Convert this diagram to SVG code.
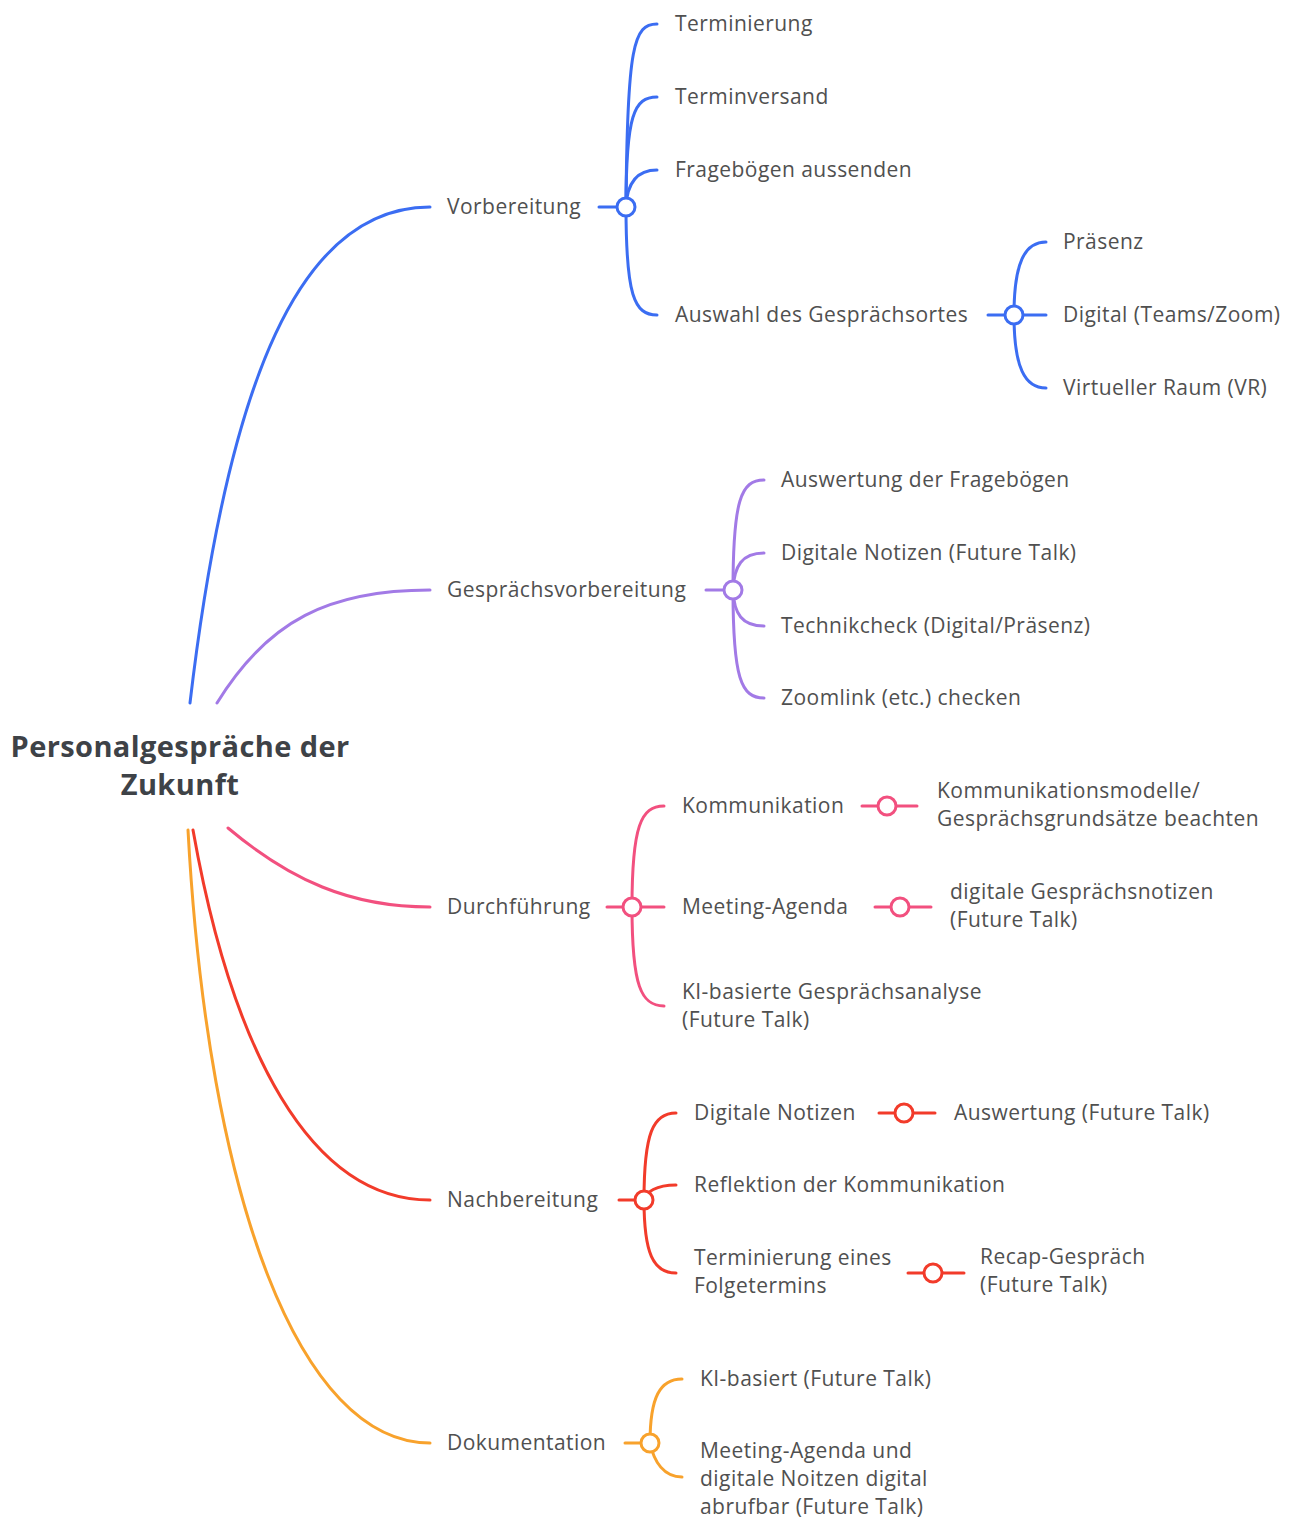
<svg xmlns="http://www.w3.org/2000/svg" width="1298" height="1519" viewBox="0 0 1298 1519">
<style>
text{font-family:"Open Sans","Noto Sans","Liberation Sans",sans-serif;font-size:21px;letter-spacing:0.45px;fill:#505050}
.root{font-size:29px;font-weight:bold;letter-spacing:0.4px;fill:#3e4247}
path,line{fill:none;stroke-width:3;stroke-linecap:round}
circle{fill:#fff;stroke-width:3}
.b{stroke:#3b6df2}.p{stroke:#a27ae6}.k{stroke:#f2507f}.r{stroke:#f23b2a}.o{stroke:#f8a22c}
</style>
<rect width="1298" height="1519" fill="#fff"/>
<g id="connectors">
<path class="b" d="M190 703 C228 380 300 207 430 207"/>
<path class="p" d="M217 703 C268 620 330 590 430 590"/>
<path class="k" d="M228 828 C290 880 350 907 430 907"/>
<path class="r" d="M193 830 C232 1050 310 1200 430 1200"/>
<path class="o" d="M188 830 C208 1200 300 1443 430 1443"/>
<!-- Vorbereitung -->
<line class="b" x1="599" y1="207" x2="616" y2="207"/>
<path class="b" d="M626 207 C627 45 634 24 657 24"/>
<path class="b" d="M626 207 C626 115 634 97 657 97"/>
<path class="b" d="M626 207 C627 185 636 170 657 170"/>
<path class="b" d="M626 207 C626 295 634 315 657 315"/>
<line class="b" x1="988" y1="315" x2="1005" y2="315"/>
<path class="b" d="M1014 315 C1014 262 1025 242 1046 242"/>
<line class="b" x1="1023" y1="315" x2="1046" y2="315"/>
<path class="b" d="M1014 315 C1014 368 1025 388 1046 388"/>
<!-- Gesprächsvorbereitung -->
<line class="p" x1="706" y1="590" x2="723" y2="590"/>
<path class="p" d="M733 590 C733 500 741 480 764 480"/>
<path class="p" d="M733 590 C734 566 742 553 764 553"/>
<path class="p" d="M733 590 C734 614 742 626 764 626"/>
<path class="p" d="M733 590 C733 678 741 698 764 698"/>
<!-- Durchführung -->
<line class="k" x1="607" y1="907" x2="623" y2="907"/>
<path class="k" d="M632 907 C632 826 641 806 664 806"/>
<line class="k" x1="641" y1="907" x2="664" y2="907"/>
<path class="k" d="M632 907 C632 986 641 1006 664 1006"/>
<line class="k" x1="862" y1="806" x2="878" y2="806"/>
<line class="k" x1="896" y1="806" x2="917" y2="806"/>
<line class="k" x1="875" y1="907" x2="891" y2="907"/>
<line class="k" x1="909" y1="907" x2="931" y2="907"/>
<!-- Nachbereitung -->
<line class="r" x1="619" y1="1200" x2="635" y2="1200"/>
<path class="r" d="M644 1200 C644 1133 653 1113 676 1113"/>
<path class="r" d="M644 1200 C646 1192 656 1185 676 1185"/>
<path class="r" d="M644 1200 C644 1253 653 1273 676 1273"/>
<line class="r" x1="879" y1="1113" x2="895" y2="1113"/>
<line class="r" x1="913" y1="1113" x2="935" y2="1113"/>
<line class="r" x1="908" y1="1273" x2="924" y2="1273"/>
<line class="r" x1="942" y1="1273" x2="964" y2="1273"/>
<!-- Dokumentation -->
<line class="o" x1="625" y1="1443" x2="641" y2="1443"/>
<path class="o" d="M650 1443 C650 1397 660 1379 682 1379"/>
<path class="o" d="M650 1443 C654 1462 664 1477 682 1477"/>
</g>
<g id="root"><text class="root" x="180" y="757" text-anchor="middle">Personalgespräche der</text><text class="root" x="180" y="795" text-anchor="middle">Zukunft</text></g>
<g id="vorbereitung"><text x="447" y="214">Vorbereitung</text><circle class="b" cx="626" cy="207" r="9"/></g>
<g id="terminierung"><text x="675" y="31">Terminierung</text></g>
<g id="terminversand"><text x="675" y="104">Terminversand</text></g>
<g id="frageboegen"><text x="675" y="177">Fragebögen aussenden</text></g>
<g id="auswahl"><text x="675" y="322">Auswahl des Gesprächsortes</text><circle class="b" cx="1014" cy="315" r="9"/></g>
<g id="praesenz"><text x="1063" y="249">Präsenz</text></g>
<g id="digital"><text x="1063" y="322">Digital (Teams/Zoom)</text></g>
<g id="vr"><text x="1063" y="395">Virtueller Raum (VR)</text></g>
<g id="gespraechsvorbereitung"><text x="447" y="597">Gesprächsvorbereitung</text><circle class="p" cx="733" cy="590" r="9"/></g>
<g id="auswertung-fb"><text x="781" y="487">Auswertung der Fragebögen</text></g>
<g id="dig-notizen"><text x="781" y="560">Digitale Notizen (Future Talk)</text></g>
<g id="technikcheck"><text x="781" y="633">Technikcheck (Digital/Präsenz)</text></g>
<g id="zoomlink"><text x="781" y="705">Zoomlink (etc.) checken</text></g>
<g id="durchfuehrung"><text x="447" y="914">Durchführung</text><circle class="k" cx="632" cy="907" r="9"/></g>
<g id="kommunikation"><text x="682" y="813">Kommunikation</text><circle class="k" cx="887" cy="806" r="9"/></g>
<g id="kommodelle"><text x="937" y="798">Kommunikationsmodelle/</text><text x="937" y="826">Gesprächsgrundsätze beachten</text></g>
<g id="meeting-agenda"><text x="682" y="914">Meeting-Agenda</text><circle class="k" cx="900" cy="907" r="9"/></g>
<g id="gespraechsnotizen"><text x="950" y="899">digitale Gesprächsnotizen</text><text x="950" y="927">(Future Talk)</text></g>
<g id="ki-analyse"><text x="682" y="999">KI-basierte Gesprächsanalyse</text><text x="682" y="1027">(Future Talk)</text></g>
<g id="nachbereitung"><text x="447" y="1207">Nachbereitung</text><circle class="r" cx="644" cy="1200" r="9"/></g>
<g id="dig-notizen2"><text x="694" y="1120">Digitale Notizen</text><circle class="r" cx="904" cy="1113" r="9"/></g>
<g id="auswertung-ft"><text x="954" y="1120">Auswertung (Future Talk)</text></g>
<g id="reflektion"><text x="694" y="1192">Reflektion der Kommunikation</text></g>
<g id="folgetermin"><text x="694" y="1265">Terminierung eines</text><text x="694" y="1293">Folgetermins</text><circle class="r" cx="933" cy="1273" r="9"/></g>
<g id="recap"><text x="980" y="1264">Recap-Gespräch</text><text x="980" y="1292">(Future Talk)</text></g>
<g id="dokumentation"><text x="447" y="1450">Dokumentation</text><circle class="o" cx="650" cy="1443" r="9"/></g>
<g id="ki-basiert"><text x="700" y="1386">KI-basiert (Future Talk)</text></g>
<g id="abrufbar"><text x="700" y="1458">Meeting-Agenda und</text><text x="700" y="1486">digitale Noitzen digital</text><text x="700" y="1514">abrufbar (Future Talk)</text></g>
</svg>
